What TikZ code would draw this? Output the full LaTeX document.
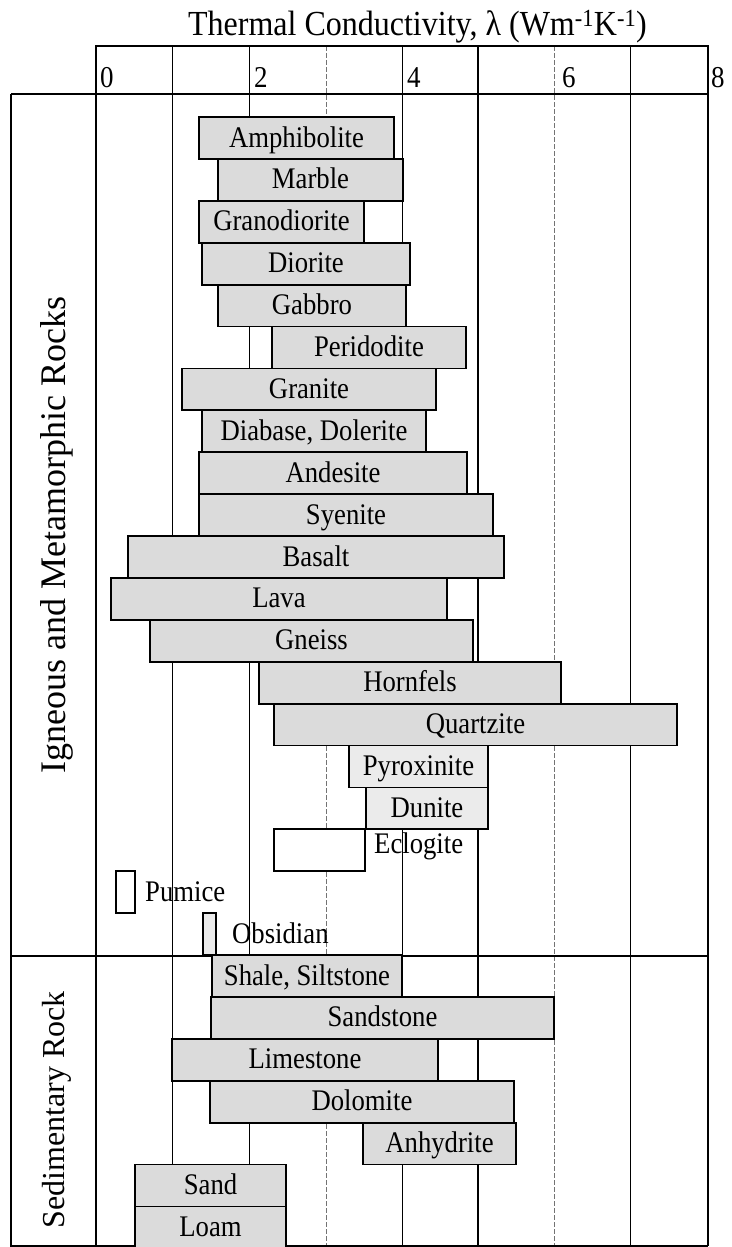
\documentclass[tikz,border=0pt]{standalone}
\usepackage{fontspec}
\setmainfont{Liberation Serif}
\tikzset{
  gridline/.style={line width=1.2pt},
  gridlight/.style={line width=1pt, black!55, dash pattern=on 5pt off 2pt},
  frameline/.style={line width=2pt},
  rockbar/.style={draw, line width=1.8pt, fill=black!14, minimum height=41.9pt,
    inner sep=0pt, outer sep=0pt, anchor=north west},
  lightbar/.style={fill=black!8},
  whitebar/.style={fill=white},
  rocklabel/.style={font=\fontsize{26.7}{30}\selectfont, anchor=base, inner sep=0pt, yscale=1.12},
  outlabel/.style={font=\fontsize{26.7}{30}\selectfont, anchor=base west, inner sep=0pt, yscale=1.12},
  ticklabel/.style={font=\fontsize{27}{30}\selectfont, anchor=base west, inner sep=0pt, yscale=1.12},
  sidelabel/.style={rotate=90, inner sep=0pt},
  titlelabel/.style={font=\fontsize{32}{36}\selectfont, anchor=base, inner sep=0pt, yscale=1.1}
}
\newcommand\rk[6]{%
  \pgfmathsetmacro\rkw{#3-#2}%
  \pgfmathsetmacro\rkt{117+41.9*#4}%
  \pgfmathsetmacro\rkc{(#2+#3)/2}%
  \node[rockbar,#5,minimum width=\rkw pt] (#1) at (#2,\rkt) {};%
  \node[rocklabel] (#1t) at (\rkc,\rkt+30) {#6};%
}
\begin{document}
\begin{tikzpicture}[x=1pt,y=-1pt]
\useasboundingbox (0,0) rectangle (731,1247);
% title
\node[titlelabel] (title) at (417.5,36) {Thermal Conductivity, λ (Wm\textsuperscript{-1}K\textsuperscript{-1})};
% grid lines
\foreach \gx in {172.5,249.3,402.3,478,630.7} \draw[gridline] (\gx,46) -- (\gx,1246);
\foreach \gx in {326,554} \draw[gridlight] (\gx,46) -- (\gx,1246);
% frame
\draw[frameline] (96,1246) -- (96,46) -- (708,46) -- (708,1246);
\draw[frameline] (11,94) -- (708,94);
\draw[frameline] (11,94) -- (11,1246) -- (708,1246);
\draw[frameline] (11,956) -- (708,956);
% tick labels
\node[ticklabel] (t0) at (100,88) {0};
\node[ticklabel] (t2) at (254,88) {2};
\node[ticklabel] (t4) at (407,88) {4};
\node[ticklabel] (t6) at (562,88) {6};
\node[ticklabel] (t8) at (711,88) {8};
% side labels
\node[sidelabel, font=\fontsize{36}{40}\selectfont] (ign) at (57,535) {Igneous and Metamorphic Rocks};
\node[sidelabel, font=\fontsize{32}{36}\selectfont] (sed) at (57,1110) {Sedimentary Rock};
% bars
\rk{amph}{199}{394}{0}{}{Amphibolite}
\rk{marb}{218}{403}{1}{}{Marble}
\rk{gran}{199}{364}{2}{}{Granodiorite}
\rk{dior}{202}{410}{3}{}{Diorite}
\rk{gabb}{218}{406}{4}{}{Gabbro}
\rk{peri}{272}{466}{5}{}{Peridodite}
\rk{grnt}{182}{436}{6}{}{Granite}
\rk{diab}{202}{426}{7}{}{Diabase, Dolerite}
\rk{ande}{199}{467}{8}{}{Andesite}
\rk{syen}{199}{493}{9}{}{Syenite}
\rk{basa}{128}{504}{10}{}{Basalt}
\rk{lava}{111}{447}{11}{}{Lava}
\rk{gnei}{150}{473}{12}{}{Gneiss}
\rk{horn}{259}{561}{13}{}{Hornfels}
\rk{quar}{274}{677}{14}{}{Quartzite}
\rk{pyro}{349}{488}{15}{lightbar}{Pyroxinite}
\rk{duni}{366}{488}{16}{lightbar}{Dunite}
\rk{eclo}{274}{365}{17}{whitebar}{}
\rk{pumi}{116}{135}{18}{whitebar}{}
\rk{obsi}{203}{216}{19}{lightbar}{}
\node[outlabel] (eclot2) at (374,853) {Eclogite};
\node[outlabel] (pumit2) at (145,901) {Pumice};
\node[outlabel] (obsit2) at (232,943) {Obsidian};
\rk{shal}{212}{402}{20}{}{Shale, Siltstone}
\rk{sand}{211}{554}{21}{}{Sandstone}
\rk{lime}{172}{438}{22}{}{Limestone}
\rk{dolo}{210}{514}{23}{}{Dolomite}
\rk{anhy}{363}{516}{24}{}{Anhydrite}
\rk{sandb}{135}{286}{25}{}{Sand}
\rk{loam}{135}{286}{26}{}{Loam}
\end{tikzpicture}
\end{document}
